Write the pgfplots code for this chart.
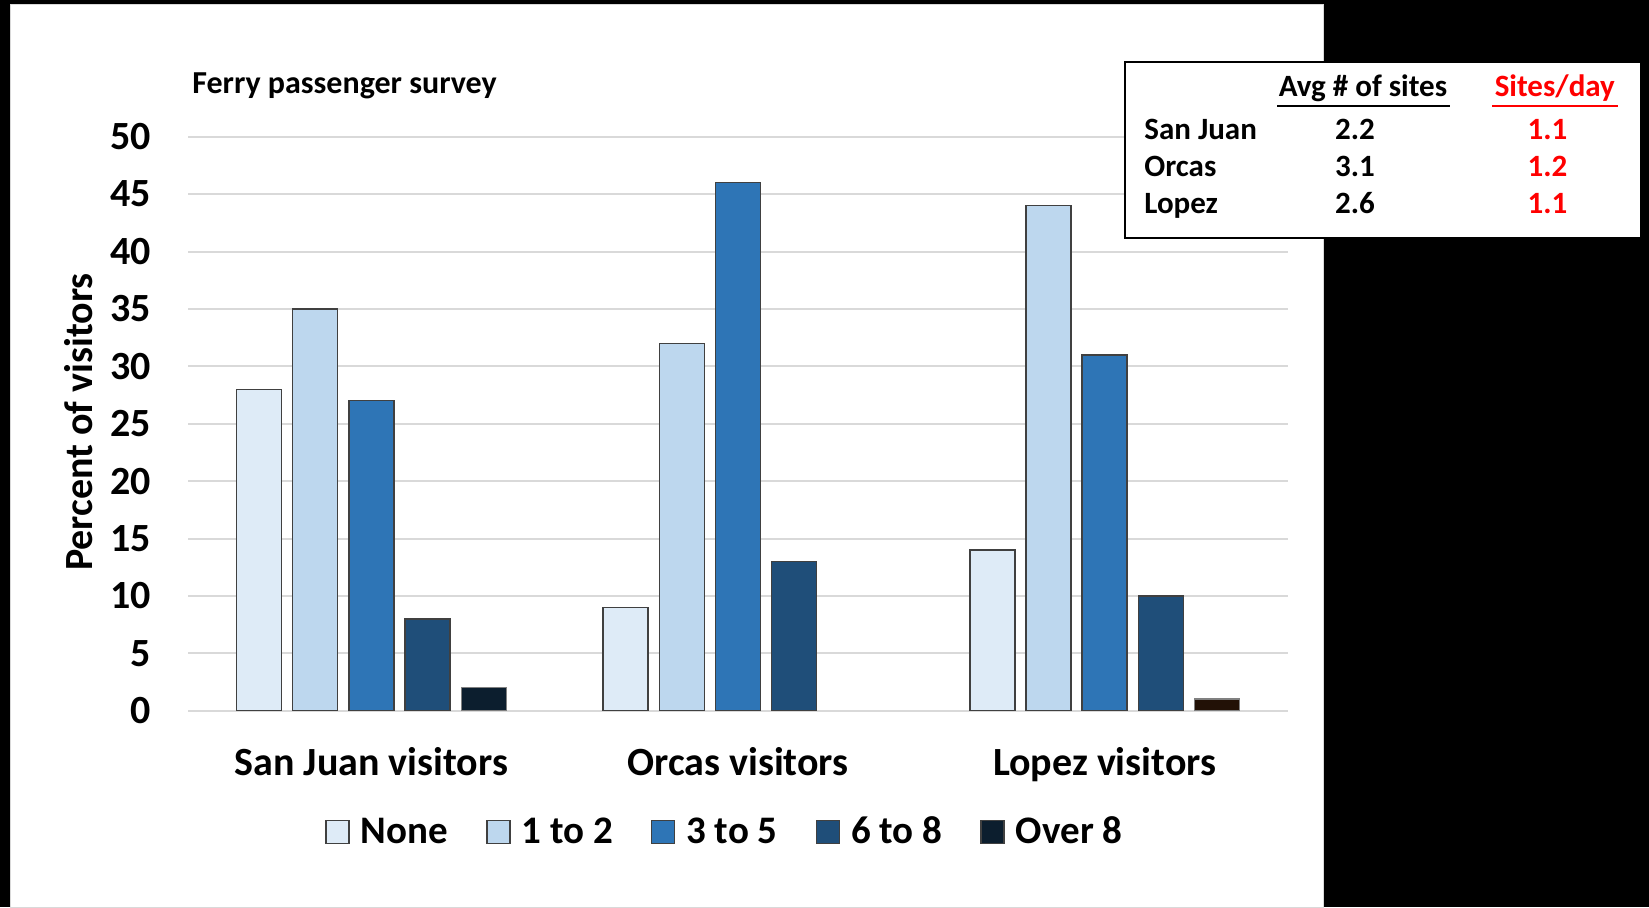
\documentclass[border=0pt]{standalone}
\usepackage{pgfplots}
\pgfplotsset{compat=1.18}
\usepackage{fontspec}
\setmainfont{Carlito}
\definecolor{cNone}{HTML}{DEEBF7}
\definecolor{cOne}{HTML}{BDD7EE}
\definecolor{cThree}{HTML}{2E75B6}
\definecolor{cSix}{HTML}{1F4E79}
\definecolor{cOver}{HTML}{0C1E2E}
\definecolor{cBrown}{HTML}{221106}
\definecolor{cGrid}{HTML}{D9D9D9}
\definecolor{cEdge}{HTML}{404040}
\definecolor{cRed}{HTML}{FF0000}
\begin{document}
\begin{tikzpicture}[x=0.5pt,y=0.5pt]
\fill[black] (0,0) rectangle (1649,907);
\filldraw[fill=white, draw=cGrid, line width=0.5pt] (10,0) rectangle (1323,902);
\begin{axis}[
  at={(94pt,98.15pt)}, anchor=south west,
  scale only axis, width=550pt, height=287pt,
  xmin=-0.5, xmax=2.5, ymin=0, ymax=50,
  ytick={0,5,...,50},
  xtick={0,1,2},
  xticklabels={San Juan visitors, Orcas visitors, Lopez visitors},
  ymajorgrids, grid style={draw=cGrid, line width=1pt},
  axis line style={draw=none},
  major tick length=0pt,
  /pgf/number format/assume math mode=true,
  ticklabel style={font=\bfseries\fontsize{20}{24}\selectfont},
  yticklabel style={anchor=east, inner sep=0pt, xshift=-18.5pt},
  xticklabel style={anchor=base, inner sep=0pt, yshift=-32.4pt},
  ybar, bar width=0.1227,
  mybar/.style={draw=cEdge, line width=0.75pt, fill=#1,
    legend image code/.code={\draw[fill=#1, draw=cEdge, line width=0.75pt] (0pt,-5.75pt) rectangle (11.5pt,5.75pt);}},
  legend columns=-1,
  legend style={draw=none, fill=none, at={(axis description cs:0,0)}, anchor=west,
    xshift=68.5pt, yshift=-60.65pt, inner sep=0pt,
    font=\bfseries\fontsize{19.5}{23}\selectfont,
    nodes={inner sep=0pt},
    /tikz/every odd column/.append style={column sep=5.5pt},
    /tikz/every even column/.append style={column sep=19pt}},
]
\addplot[mybar=cNone, bar shift=-0.3066] coordinates {(0,28) (1,9) (2,14)};
\addlegendentry{None}
\addplot[mybar=cOne, bar shift=-0.1533] coordinates {(0,35) (1,32) (2,44)};
\addlegendentry{1 to 2}
\addplot[mybar=cThree, bar shift=0] coordinates {(0,27) (1,46) (2,31)};
\addlegendentry{3 to 5}
\addplot[mybar=cSix, bar shift=0.1533] coordinates {(0,8) (1,13) (2,10)};
\addlegendentry{6 to 8}
\addplot[mybar=cOver, draw=gray, bar shift=0.3066] coordinates {(0,2)};
\addlegendentry{Over 8}
\addplot[mybar=cBrown, draw=gray, bar shift=0.3066, forget plot] coordinates {(2,1)};
\end{axis}
% title
\node[anchor=base west, inner sep=0pt, font=\bfseries\fontsize{16}{19}\selectfont] at (192,813) {Ferry passenger survey};
% y label
\node[anchor=base, rotate=90, inner sep=0pt, font=\bfseries\fontsize{20}{24}\selectfont] at (92,485) {Percent of visitors};
% info box
\filldraw[fill=white, draw=black, line width=1pt] (1124.5,669.3) rectangle (1641,845.3);
\begin{scope}[every node/.style={inner sep=0pt, font=\bfseries\fontsize{15.5}{18}\selectfont}]
\node[anchor=base] at (1363,810.3) {Avg \# of sites};
\draw[line width=1.3pt] (1277,801) -- (1450,801);
\node[anchor=base, text=cRed] at (1554.8,810.3) {Sites/day};
\draw[cRed, line width=1.3pt] (1492,801) -- (1617.5,801);
\node[anchor=base west] at (1144,767.7) {San Juan};
\node[anchor=base west] at (1144,730.3) {Orcas};
\node[anchor=base west] at (1144,693.7) {Lopez};
\node[anchor=base] at (1355,767.7) {2.2};
\node[anchor=base] at (1355,730.3) {3.1};
\node[anchor=base] at (1355,693.7) {2.6};
\node[anchor=base, text=cRed] at (1547.5,767.7) {1.1};
\node[anchor=base, text=cRed] at (1547.5,730.3) {1.2};
\node[anchor=base, text=cRed] at (1547.5,693.7) {1.1};
\end{scope}
\pgfresetboundingbox
\useasboundingbox (0,0) rectangle (1649,907);
\end{tikzpicture}
\end{document}
